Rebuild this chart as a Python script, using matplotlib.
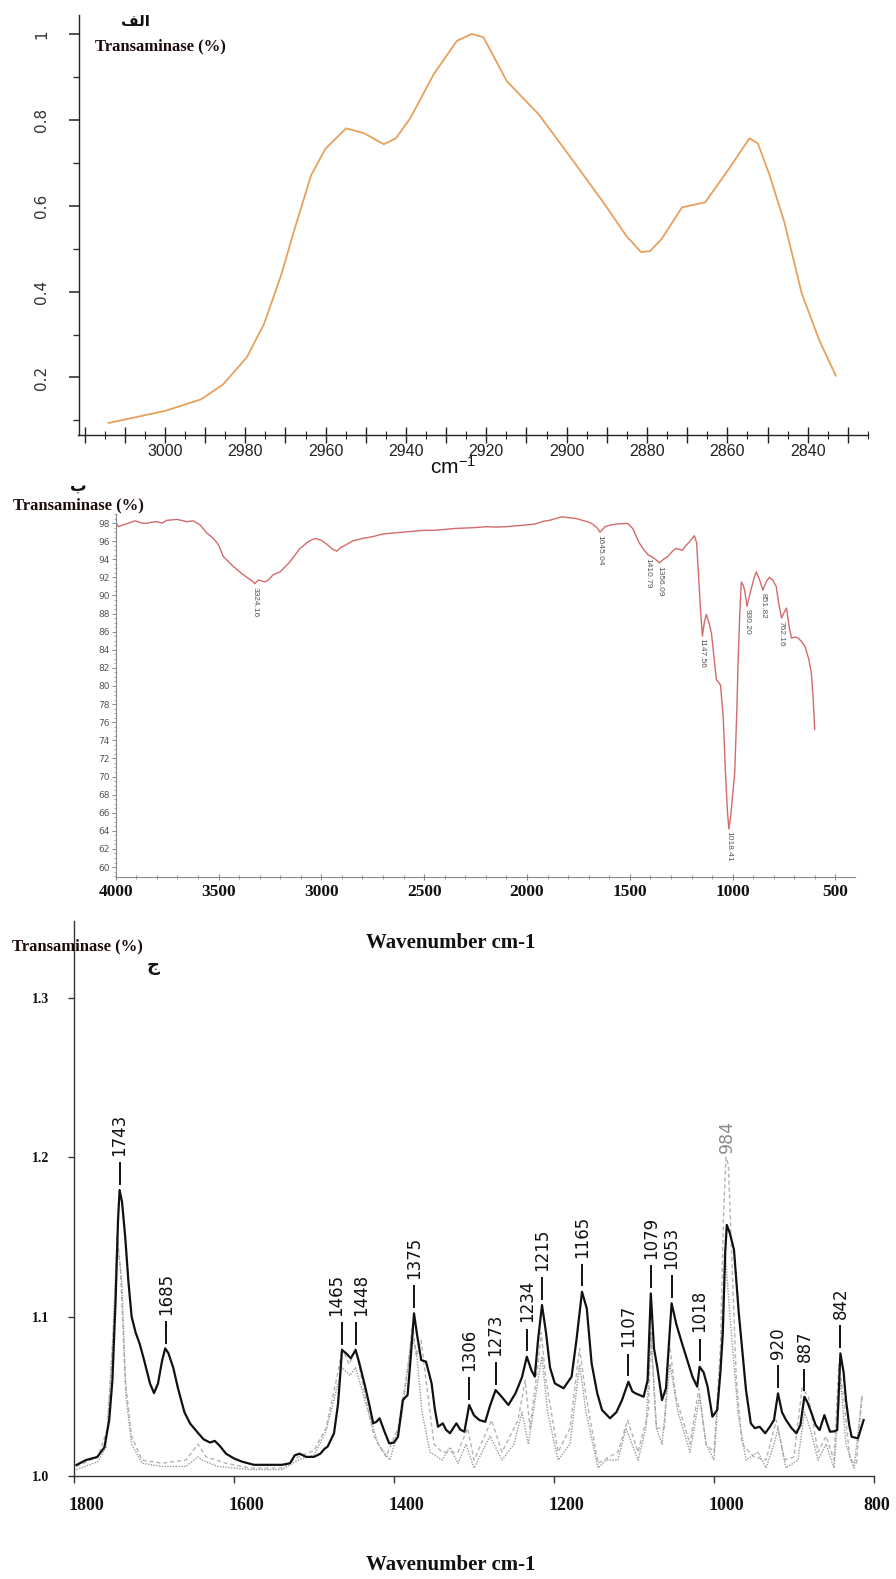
import numpy as np
import matplotlib
matplotlib.use("Agg")
import matplotlib.pyplot as plt
import matplotlib.transforms as mtransforms
from matplotlib.ticker import MultipleLocator, FixedLocator, FuncFormatter

plt.rcParams["font.family"] = ["DejaVu Sans"]
plt.rcParams["mathtext.default"] = "regular"

W, H = 896, 1579
SERIF = ["Liberation Serif", "DejaVu Serif"]
NARROW = ["Liberation Sans Narrow", "Liberation Sans", "DejaVu Sans"]

# ---------------- panel a (الف) : C-H stretching region ----------------
a_wn = [3014, 3000, 2991, 2985.5, 2979.6, 2975.3, 2970.9, 2968, 2963.6, 2960,
        2954.9, 2950.5, 2945.5, 2942.5, 2938.9, 2933.1, 2927.3, 2923.6, 2920.7,
        2914.9, 2906.9, 2898.2, 2890.9, 2885.1, 2881.5, 2879.3, 2876.4, 2871.3,
        2865.5, 2859.6, 2854.5, 2852.4, 2849.5, 2845.8, 2841.5, 2837.1, 2833]
a_val = [0.094, 0.122, 0.149, 0.184, 0.247, 0.325, 0.443, 0.537, 0.671, 0.733,
         0.780, 0.769, 0.743, 0.757, 0.804, 0.906, 0.984, 1.0, 0.992,
         0.890, 0.812, 0.702, 0.608, 0.529, 0.492, 0.494, 0.522, 0.596,
         0.608, 0.686, 0.757, 0.745, 0.671, 0.561, 0.396, 0.286, 0.204]

# ---------------- panel b (ب) : full FTIR spectrum ----------------
b_wn = [4000, 3987, 3950, 3906, 3875, 3849, 3825, 3801, 3775, 3752, 3703, 3680,
        3655, 3623, 3590, 3557, 3525, 3500, 3477, 3428, 3380, 3331, 3324, 3307,
        3290, 3274, 3258, 3234, 3201, 3153, 3104, 3060, 3030, 3000, 2970, 2945,
        2925, 2905, 2880, 2850, 2800, 2750, 2700, 2650, 2600, 2550, 2500, 2450,
        2400, 2350, 2300, 2250, 2200, 2150, 2100, 2050, 2000, 1960, 1920, 1890,
        1860, 1828, 1800, 1760, 1731, 1700, 1682, 1660, 1645, 1620, 1592, 1560,
        1511, 1486, 1470, 1454, 1430, 1411, 1381, 1356, 1336, 1316, 1296, 1276,
        1260, 1244, 1228, 1211, 1186, 1175, 1169, 1163, 1155, 1147, 1138, 1128,
        1115, 1103, 1090, 1079, 1065, 1059, 1046, 1035, 1025, 1018, 1010, 1000,
        990, 980, 974, 966, 958, 950, 942, 930, 920, 909, 895, 885, 870, 853,
        835, 820, 805, 788, 775, 762, 750, 738, 725, 714, 695, 681, 665, 649,
        630, 617, 608, 601]
b_val = [98.1, 97.6, 97.9, 98.25, 98.0, 97.97, 98.1, 98.15, 98.0, 98.3, 98.4, 98.3,
         98.15, 98.25, 97.8, 96.9, 96.3, 95.6, 94.3, 93.2, 92.3, 91.5, 91.3, 91.7,
         91.6, 91.5, 91.7, 92.3, 92.6, 93.7, 95.2, 96.0, 96.3, 96.1, 95.6, 95.1,
         94.9, 95.3, 95.6, 96.0, 96.3, 96.5, 96.8, 96.9, 97.0, 97.1, 97.2, 97.2,
         97.3, 97.4, 97.45, 97.5, 97.6, 97.55, 97.6, 97.7, 97.8, 97.9, 98.2, 98.3,
         98.5, 98.7, 98.6, 98.5, 98.3, 98.1, 97.9, 97.5, 97.0, 97.6, 97.8, 97.9,
         97.96, 97.4, 96.6, 95.8, 95.0, 94.5, 94.1, 93.6, 94.0, 94.3, 94.8, 95.2,
         95.1, 95.0, 95.5, 95.9, 96.6, 95.8, 93.5, 91.4, 88.0, 85.5, 87.0, 87.9,
         87.0, 85.8, 83.0, 80.7, 80.3, 80.1, 76.6, 70.5, 66.0, 64.2, 65.5, 68.0,
         70.4, 77.0, 82.2, 87.5, 91.5, 91.2, 90.6, 88.8, 89.8, 90.8, 92.0, 92.6, 91.8, 90.6,
         91.6, 92.0, 91.7, 91.0, 89.0, 87.5, 88.1, 88.6, 86.5, 85.3, 85.4, 85.3, 84.9, 84.4,
         83.0, 81.4, 78.5, 75.2]
b_peaks = [3324.16, 1645.04, 1410.79, 1356.09, 1147.56, 1018.41, 930.20, 851.82, 762.16]
b_xticks = [4000, 3500, 3000, 2500, 2000, 1500, 1000, 500]
b_yticks = list(range(60, 100, 2))

# ---------------- panel c (ج) : fingerprint region, three spectra ----------------
c_wn = [1797, 1785, 1771, 1762, 1756, 1752, 1748, 1745, 1743, 1740, 1736, 1732, 1728,
        1723, 1718, 1712, 1705, 1700, 1695, 1690, 1686, 1682, 1676, 1670, 1662, 1655,
        1645, 1638, 1630, 1624, 1618, 1610, 1600, 1590, 1575, 1555, 1540, 1530, 1524,
        1518, 1510, 1500, 1492, 1487, 1483, 1475, 1470, 1468, 1465, 1460, 1454, 1448,
        1444, 1437, 1431, 1426, 1422, 1418, 1412, 1406, 1400, 1395, 1391, 1389, 1383,
        1379, 1375, 1371, 1366, 1360, 1353, 1349, 1345, 1339, 1335, 1330, 1326, 1322,
        1317, 1312, 1306, 1300, 1293, 1286, 1280, 1273, 1266, 1257, 1248, 1240, 1234,
        1228, 1224, 1220, 1215, 1210, 1205, 1199, 1188, 1178, 1172, 1165, 1159, 1153,
        1146, 1140, 1130, 1122, 1115, 1107, 1102, 1098, 1088, 1083, 1079, 1075, 1071,
        1065, 1060, 1053, 1047, 1040, 1033, 1027, 1021, 1018, 1013, 1008, 1002, 996,
        992, 989, 986, 984, 980, 975, 969, 964, 960, 954, 949, 943, 936, 930, 925,
        920, 915, 910, 903, 897, 892, 887, 883, 878, 873, 868, 862, 858, 855, 850,
        846, 842, 838, 835, 831, 828, 820, 813]
c_solid = [1.0069, 1.010, 1.0119, 1.018, 1.035, 1.06, 1.11, 1.16, 1.1793, 1.172, 1.150, 1.122, 1.100,
           1.090, 1.083, 1.072, 1.058, 1.052, 1.058, 1.072, 1.080, 1.077, 1.068, 1.055, 1.040, 1.033,
           1.027, 1.023, 1.021, 1.022, 1.019, 1.014, 1.011, 1.009, 1.007, 1.007, 1.007, 1.008, 1.013,
           1.014, 1.012, 1.012, 1.014, 1.017, 1.0184, 1.0268, 1.045, 1.058, 1.079, 1.077, 1.0738, 1.079,
           1.072, 1.058, 1.045, 1.033, 1.034, 1.0362, 1.028, 1.0205, 1.021, 1.0246, 1.04, 1.0476, 1.0508,
           1.075, 1.102, 1.088, 1.0727, 1.0717, 1.0581, 1.042, 1.0309, 1.0330, 1.029, 1.0268, 1.030, 1.0330,
           1.029, 1.0278, 1.0445, 1.038, 1.035, 1.0340, 1.044, 1.0539, 1.050, 1.0445, 1.052, 1.062, 1.0748,
           1.066, 1.0623, 1.085, 1.1072, 1.09, 1.068, 1.0581, 1.0550, 1.0623, 1.085, 1.1155, 1.105, 1.0707,
           1.052, 1.0414, 1.0362, 1.040, 1.0476, 1.0591, 1.053, 1.0518, 1.0497, 1.060, 1.1145, 1.08, 1.0685,
           1.0476, 1.055, 1.1083, 1.095, 1.0832, 1.072, 1.0623, 1.0560, 1.0685, 1.065, 1.0560, 1.0372, 1.0414,
           1.065, 1.0895, 1.14, 1.1574, 1.152, 1.1417, 1.1020, 1.075, 1.0539, 1.0330, 1.030, 1.0309, 1.0268, 1.031, 1.0351,
           1.0518, 1.040, 1.0351, 1.030, 1.0268, 1.032, 1.0497, 1.046, 1.0393, 1.032, 1.0288, 1.0382, 1.032, 1.0278, 1.028,
           1.0288, 1.0769, 1.065, 1.0476, 1.032, 1.0246, 1.0236, 1.0351]

d_wn = [1797, 1770, 1760, 1752, 1746, 1740, 1735, 1728, 1715, 1690, 1660, 1645, 1640, 1620,
        1580, 1540, 1520, 1500, 1485, 1470, 1465, 1455, 1448, 1435, 1420, 1405, 1390, 1378,
        1372, 1365, 1355, 1340, 1330, 1320, 1310, 1300, 1280, 1265, 1250, 1240, 1232, 1220,
        1215, 1208, 1195, 1180, 1168, 1160, 1145, 1135, 1120, 1110, 1095, 1085, 1079, 1072,
        1065, 1055, 1045, 1030, 1018, 1010, 1000, 993, 986, 980, 970, 960, 945, 935, 925,
        920, 910, 895, 887, 880, 870, 860, 850, 842, 835, 825, 815]
c_dotted = [1.004, 1.009, 1.018, 1.08, 1.15, 1.12, 1.05, 1.02, 1.008, 1.006, 1.006, 1.012, 1.010, 1.006,
            1.004, 1.004, 1.010, 1.013, 1.028, 1.058, 1.068, 1.063, 1.068, 1.045, 1.020, 1.010, 1.038, 1.088,
            1.078, 1.04, 1.015, 1.010, 1.018, 1.008, 1.020, 1.005, 1.025, 1.010, 1.020, 1.040, 1.020, 1.060,
            1.075, 1.04, 1.010, 1.020, 1.070, 1.040, 1.005, 1.010, 1.010, 1.030, 1.010, 1.030, 1.090, 1.030,
            1.020, 1.070, 1.040, 1.015, 1.050, 1.020, 1.010, 1.060, 1.140, 1.100, 1.040, 1.010, 1.015, 1.005, 1.020,
            1.030, 1.005, 1.010, 1.040, 1.030, 1.010, 1.020, 1.005, 1.060, 1.020, 1.005, 1.050]

e_wn = [1797, 1770, 1758, 1750, 1746, 1742, 1736, 1728, 1715, 1690, 1660, 1645, 1635, 1610,
        1580, 1540, 1520, 1500, 1485, 1470, 1465, 1456, 1448, 1436, 1425, 1410, 1395, 1382,
        1377, 1372, 1366, 1360, 1350, 1340, 1320, 1308, 1300, 1278, 1265, 1245, 1236, 1230,
        1220, 1216, 1210, 1195, 1180, 1168, 1160, 1145, 1120, 1108, 1095, 1082, 1079, 1072,
        1062, 1056, 1048, 1030, 1019, 1010, 1000, 992, 988, 985, 982, 978, 972, 965, 950,
        935, 922, 912, 900, 890, 882, 870, 860, 850, 844, 838, 830, 822, 815]
c_dashed = [1.006, 1.012, 1.030, 1.10, 1.15, 1.13, 1.06, 1.025, 1.010, 1.008, 1.010, 1.020, 1.012, 1.008,
            1.005, 1.005, 1.012, 1.016, 1.030, 1.065, 1.080, 1.070, 1.080, 1.050, 1.025, 1.012, 1.030, 1.070,
            1.095, 1.075, 1.085, 1.060, 1.020, 1.015, 1.015, 1.030, 1.010, 1.035, 1.015, 1.035, 1.060, 1.030,
            1.070, 1.090, 1.060, 1.015, 1.030, 1.080, 1.050, 1.008, 1.015, 1.035, 1.015, 1.040, 1.090, 1.030,
            1.030, 1.085, 1.050, 1.020, 1.055, 1.020, 1.015, 1.080, 1.165, 1.200, 1.195, 1.140, 1.060, 1.020, 1.012,
            1.010, 1.035, 1.010, 1.012, 1.055, 1.050, 1.015, 1.025, 1.010, 1.070, 1.050, 1.010, 1.008, 1.050]

c_peaks = [1743, 1685, 1465, 1448, 1375, 1306, 1273, 1234, 1215, 1165, 1107,
           1079, 1053, 1018, 984, 920, 887, 842]
c_xticks = [1800, 1600, 1400, 1200, 1000, 800]
c_yticks = [1.0, 1.1, 1.2, 1.3]


def fx(px):
    return px / W


def fy(py):
    return 1 - py / H


fig = plt.figure(figsize=(W / 100, H / 100), dpi=100, facecolor="white")

# ---------------- panel a ----------------
ax1 = fig.add_axes([fx(78.5), fy(435), fx(868) - fx(78.5), fy(15) - fy(435)])
ax1.plot(a_wn, a_val, color="#e8a05c", lw=1.3)
ax1.set_xlim(3021.5, 2825)
ax1.set_ylim(0.066, 1.044)
for s in ("top", "right"):
    ax1.spines[s].set_visible(False)
for s in ("left", "bottom"):
    ax1.spines[s].set_color("#222")
    ax1.spines[s].set_linewidth(1.0)
ax1.xaxis.set_major_locator(MultipleLocator(10))
ax1.xaxis.set_minor_locator(MultipleLocator(5))
ax1.xaxis.set_major_formatter(
    FuncFormatter(lambda v, p: f"{v:.0f}" if round(v) % 20 == 0 and v < 3010 else ""))
ax1.tick_params(axis="x", which="major", direction="inout", length=11, width=1.0,
                labelsize=11.5, pad=1, colors="#222")
ax1.tick_params(axis="x", which="minor", direction="inout", length=6, width=0.8, colors="#222")
for lbl in ax1.get_xticklabels():
    lbl.set_family(NARROW)
ax1.yaxis.set_major_locator(FixedLocator([0.2, 0.4, 0.6, 0.8, 1.0]))
ax1.yaxis.set_minor_locator(MultipleLocator(0.1))
ax1.yaxis.set_major_formatter(FuncFormatter(lambda v, p: "1" if abs(v - 1) < 1e-6 else f"{v:.1f}"))
ax1.tick_params(axis="y", which="major", direction="out", length=7, width=1.2,
                labelsize=11, pad=14, colors="#333", labelrotation=90)
ax1.tick_params(axis="y", which="minor", direction="out", length=4, width=1.0, colors="#333")
for lbl in ax1.get_yticklabels():
    lbl.set_verticalalignment("center")

fig.text(fx(135), fy(22), "\ufed2\ufedf\ufe8d", ha="center", va="center",
         fontsize=11, fontweight="bold", family=["DejaVu Sans"], color="#111")
fig.text(fx(95), fy(46), "Transaminase (%)", ha="left", va="center",
         fontsize=12, fontweight="bold", family=SERIF, color="#1d0b0b")
fig.text(fx(453), fy(467), "cm$^{-1}$", ha="center", va="center",
         fontsize=15, family=["Liberation Sans", "DejaVu Sans"], color="#111")

# ---------------- panel b ----------------
ax2 = fig.add_axes([fx(115.7), fy(877), fx(855) - fx(115.7), fy(514) - fy(877)])
ax2.plot(b_wn, b_val, color="#d46a6a", lw=1.0)
ax2.set_xlim(4000, 405)
ax2.set_ylim(58.9, 99.0)
for s in ("top", "right"):
    ax2.spines[s].set_visible(False)
for s in ("left", "bottom"):
    ax2.spines[s].set_color("#8a8a8a")
    ax2.spines[s].set_linewidth(0.8)
ax2.set_xticks(b_xticks)
ax2.xaxis.set_minor_locator(MultipleLocator(100))
ax2.tick_params(axis="x", which="major", direction="inout", length=4, width=0.8,
                colors="#8a8a8a", labelcolor="#111", labelsize=12.5, pad=3)
ax2.tick_params(axis="x", which="minor", direction="inout", length=3, width=0.6, colors="#8a8a8a")
for lbl in ax2.get_xticklabels():
    lbl.set_family(SERIF)
    lbl.set_fontweight("bold")
ax2.set_yticks(b_yticks)
ax2.yaxis.set_minor_locator(MultipleLocator(0.5))
ax2.tick_params(axis="y", which="major", direction="out", length=3, width=0.7,
                colors="#8a8a8a", labelcolor="#555", labelsize=6.5, pad=1.5)
ax2.tick_params(axis="y", which="minor", direction="out", length=1.5, width=0.6, colors="#9a9a9a")

b_wn_inc = np.array(b_wn[::-1], dtype=float)
b_val_inc = np.array(b_val[::-1], dtype=float)
for pk in b_peaks:
    yv = np.interp(pk, b_wn_inc, b_val_inc)
    ax2.text(pk, yv - 0.35, f"{pk:.2f}", rotation=270, ha="center", va="top",
             fontsize=6, color="#555", family=["Liberation Sans", "DejaVu Sans"])

fig.text(fx(78), fy(486), "\u0628", ha="center", va="center",
         fontsize=12, fontweight="bold", family=["DejaVu Sans"], color="#111")
fig.text(fx(13), fy(505), "Transaminase (%)", ha="left", va="center",
         fontsize=12, fontweight="bold", family=SERIF, color="#1d0b0b")
fig.text(fx(451), fy(943), "Wavenumber cm-1", ha="center", va="center",
         fontsize=15, fontweight="bold", family=SERIF, color="#111")

# ---------------- panel c ----------------
ax3 = fig.add_axes([fx(74), fy(1476), fx(874) - fx(74), fy(921) - fy(1476)])
ax3.plot(e_wn, c_dashed, color="#b4b4b4", lw=1.0, ls=(0, (3, 2)))
ax3.plot(d_wn, c_dotted, color="#9a9a9a", lw=1.0, ls=(0, (1, 1)))
ax3.plot(c_wn, c_solid, color="#111", lw=1.6)
ax3.set_xlim(1800, 800)
ax3.set_ylim(1.0, 1.348)
for s in ("top", "right"):
    ax3.spines[s].set_visible(False)
for s in ("left", "bottom"):
    ax3.spines[s].set_color("#333")
    ax3.spines[s].set_linewidth(1.0)
ax3.set_xticks(c_xticks)
ax3.tick_params(axis="x", direction="out", length=5, width=1.0, colors="#333",
                labelcolor="#111", labelsize=13, pad=10)
ax3.set_yticks(c_yticks)
ax3.yaxis.set_major_formatter(FuncFormatter(lambda v, p: f"{v:.1f}"))
ax3.tick_params(axis="y", direction="out", length=4, width=1.0, colors="#333",
                labelcolor="#111", labelsize=10, pad=14)
for lbl in ax3.get_xticklabels() + ax3.get_yticklabels():
    lbl.set_family(SERIF)
    lbl.set_fontweight("bold")
xlbls = ax3.get_xticklabels()
for i, lbl in enumerate(xlbls):
    dx = 0.12 if i < len(xlbls) - 1 else 0.03
    lbl.set_transform(lbl.get_transform()
                      + mtransforms.ScaledTranslation(dx, 0, fig.dpi_scale_trans))

# two close peaks get their labels nudged apart a little (in points)
nudge = {1465: -4, 1448: 4}

s_inc = (np.array(c_wn[::-1], float), np.array(c_solid[::-1], float))
e_inc = (np.array(e_wn[::-1], float), np.array(c_dashed[::-1], float))
for pk in c_peaks:
    ys = np.interp(pk, *s_inc)
    ye = np.interp(pk, *e_inc)
    if ye > ys + 0.02:
        # label sits directly on top of the dashed spectrum's peak
        ax3.text(pk, ye + 0.004, f"{pk}", rotation=90, ha="center", va="bottom",
                 fontsize=12.5, color="#8a8a8a")
        continue
    y0 = ys + 0.004
    y1 = y0 + 0.013
    ax3.plot([pk, pk], [y0, y1], color="#111", lw=1.4)
    t = ax3.text(pk, y1 + 0.0045, f"{pk}", rotation=90, ha="center", va="bottom",
                 fontsize=12, color="#111")
    if pk in nudge:
        t.set_transform(ax3.transData
                        + mtransforms.ScaledTranslation(nudge[pk] / 72, 0, fig.dpi_scale_trans))

fig.text(fx(12), fy(946), "Transaminase (%)", ha="left", va="center",
         fontsize=12, fontweight="bold", family=SERIF, color="#1d0b0b")
fig.text(fx(153), fy(966), "\u062c", ha="center", va="center",
         fontsize=13, fontweight="bold", family=["DejaVu Sans"], color="#111")
fig.text(fx(451), fy(1565), "Wavenumber cm-1", ha="center", va="center",
         fontsize=15, fontweight="bold", family=SERIF, color="#111")

fig.savefig("out.png", dpi=100, facecolor="white")
